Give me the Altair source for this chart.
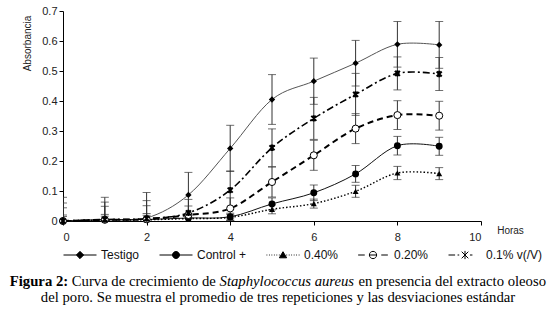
import altair as alt
import pandas as pd

# ---------------- data ----------------
hours = [0, 1, 2, 3, 4, 5, 6, 7, 8, 9]
series_names = ["Testigo", "Control +", "0.40%", "0.20%", "0.1% v(/V)"]

testigo = [0.000, 0.005, 0.010, 0.087, 0.242, 0.405, 0.466, 0.526, 0.589, 0.587]
testigo_err = [0.079, 0.074, 0.085, 0.075, 0.077, 0.083, 0.077, 0.076, 0.076, 0.078]

control = [0.000, 0.004, 0.005, 0.010, 0.014, 0.057, 0.094, 0.157, 0.251, 0.249]
control_err = [0.020, 0.018, 0.020, 0.015, 0.012, 0.020, 0.026, 0.028, 0.031, 0.030]

p040 = [0.000, 0.003, 0.004, 0.008, 0.012, 0.039, 0.058, 0.099, 0.160, 0.158]
p040_err = [0.015, 0.013, 0.015, 0.012, 0.010, 0.015, 0.015, 0.020, 0.022, 0.020]

p020 = [0.000, 0.004, 0.006, 0.020, 0.042, 0.130, 0.219, 0.308, 0.353, 0.351]
p020_err = [0.044, 0.045, 0.045, 0.030, 0.035, 0.050, 0.050, 0.050, 0.048, 0.048]

p010 = [0.000, 0.005, 0.008, 0.027, 0.103, 0.244, 0.342, 0.422, 0.492, 0.490]
p010_err = [0.060, 0.058, 0.060, 0.045, 0.064, 0.063, 0.070, 0.070, 0.055, 0.055]

y_ticks = [0, 0.1, 0.2, 0.3, 0.4, 0.5, 0.6, 0.7]
x_ticks = [0, 2, 4, 6, 8, 10]

caption_bold = "Figura 2:"
caption_a = "Curva de crecimiento de"
caption_italic = "Staphylococcus aureus"
caption_b = "en presencia del extracto oleoso"
caption_line2 = "del poro. Se muestra el promedio de tres repeticiones y las desviaciones estándar"

values = [testigo, control, p040, p020, p010]
errors = [testigo_err, control_err, p040_err, p020_err, p010_err]

rows = []
for name, vals, errs in zip(series_names, values, errors):
    for h, v, e in zip(hours, vals, errs):
        rows.append({"series": name, "hour": h, "value": v, "lo": v - e, "hi": v + e})
df = pd.DataFrame(rows)

# ---------------- styles ----------------
SANS = "Liberation Sans"
SERIF = "Liberation Serif"

line_styles = {
    "Testigo": dict(color="#555555", strokeWidth=1.0),
    "Control +": dict(color="#111111", strokeWidth=1.0),
    "0.40%": dict(color="#000000", strokeWidth=1.4, strokeDash=[1.5, 2]),
    "0.20%": dict(color="#000000", strokeWidth=2.0, strokeDash=[6, 4]),
    "0.1% v(/V)": dict(color="#000000", strokeWidth=1.6, strokeDash=[7, 3, 2, 3]),
}
star_path = "M-0.75,-0.75L0.75,0.75M-0.75,0.75L0.75,-0.75M0,-0.95V0.95"
point_styles = {
    "Testigo": dict(shape="diamond", size=40, filled=True, color="#000000"),
    "Control +": dict(shape="circle", size=48, filled=True, color="#000000"),
    "0.40%": dict(shape="triangle-up", size=36, filled=True, color="#000000"),
    "0.20%": dict(shape="circle", size=50, filled=True, fill="white", stroke="#000000", strokeWidth=1),
    "0.1% v(/V)": dict(shape=star_path, size=45, filled=False, color="#000000", strokeWidth=2),
}

legend_paths = [
    "M-1,0H1M0,-0.22L0.22,0L0,0.22L-0.22,0Z",
    "M-1,0H1M-0.21,0A0.21,0.21,0,1,0,0.21,0A0.21,0.21,0,1,0,-0.21,0Z",
    "M-1,0H-0.95M-0.85,0H-0.8M-0.7,0H-0.65M-0.55,0H-0.5M-0.4,0H-0.35M-0.25,0H-0.2"
    "M0.2,0H0.25M0.35,0H0.4M0.5,0H0.55M0.65,0H0.7M0.8,0H0.85M0.95,0H1"
    "M0,-0.2L0.22,0.17L-0.22,0.17Z",
    "M-0.9,0H-0.5M-0.2,0H0.2M0.5,0H0.9M-0.22,0A0.22,0.22,0,1,0,0.22,0A0.22,0.22,0,1,0,-0.22,0Z",
    "M-1,0H-0.6M-0.45,0H-0.35M0.3,0H0.45M-0.2,-0.2L0.2,0.2M-0.2,0.2L0.2,-0.2M0,-0.25V0.25",
]
legend_fills = ["black", "black", "black", "white", "black"]
legend_strokes = ["black", "black", "black", "black", "black"]

x_scale = alt.Scale(domain=[0, 10], nice=False, zero=False)
y_scale = alt.Scale(domain=[0, 0.7], nice=False)
x_axis = alt.Axis(
    values=x_ticks, title="Horas", grid=False, tickSize=4, labelPadding=6,
    labelFont=SANS, labelFontSize=11, labelColor="#222222",
    titleFont=SANS, titleFontSize=10, titleFontWeight="normal", titleColor="#222222",
    titleX=447, titleY=9, titleAlign="center", titleBaseline="middle",
    domainColor="#000000", tickColor="#000000",
)
y_axis = alt.Axis(
    values=y_ticks, format="~g", title="Absorbancia", grid=False, tickSize=4,
    labelPadding=2, labelFont=SANS, labelFontSize=11, labelColor="#222222",
    titleFont=SANS, titleFontSize=10, titleFontWeight="normal", titleColor="#222222",
    titleAngle=-90, titleX=-36, titleY=32, titleAlign="center", titleBaseline="middle",
    domainColor="#000000", tickColor="#000000",
)

def X():
    return alt.X("hour:Q", scale=x_scale, axis=x_axis)

def Y(field):
    return alt.Y(f"{field}:Q", scale=y_scale, axis=y_axis)

err_layers, line_layers, point_layers = [], [], []
for name in series_names:
    base = alt.Chart(df[df["series"] == name])
    err_layers.append(
        base.mark_rule(color="#333333", strokeWidth=1, clip=True).encode(
            x=X(), y=Y("lo"), y2="hi:Q")
    )
    for fld in ("lo", "hi"):
        err_layers.append(
            base.mark_tick(orient="horizontal", size=8, thickness=1, color="#333333",
                           clip=True).encode(x=X(), y=Y(fld))
        )
    line_layers.append(
        base.mark_line(interpolate="cardinal", **line_styles[name]).encode(x=X(), y=Y("value"))
    )
    point_layers.append(
        base.mark_point(opacity=1, **point_styles[name]).encode(x=X(), y=Y("value"))
    )

legend_layer = alt.Chart(df[df["hour"] == 0]).mark_point(
    opacity=0, strokeWidth=1
).encode(
    x=X(), y=Y("value"),
    shape=alt.Shape("series:N", scale=alt.Scale(domain=series_names, range=legend_paths),
                    legend=alt.Legend(title=None)),
    fill=alt.Fill("series:N", scale=alt.Scale(domain=series_names, range=legend_fills),
                  legend=alt.Legend(title=None)),
    stroke=alt.Stroke("series:N", scale=alt.Scale(domain=series_names, range=legend_strokes),
                      legend=alt.Legend(title=None)),
)

def cap_text(txt, x, y, **kw):
    return alt.Chart(pd.DataFrame({"t": [txt]})).mark_text(
        font=SERIF, fontSize=14.7, color="#000000", baseline="alphabetic", **kw
    ).encode(x=alt.value(x), y=alt.value(y), text="t:N")

captions = [
    cap_text(caption_bold, -53.2, 275, align="left", fontWeight="bold"),
    cap_text(caption_a, 8.8, 275, align="left"),
    cap_text(caption_italic, 156.6, 275, align="left", fontStyle="italic"),
    cap_text(caption_b, 295.4, 275, align="left"),
    cap_text(caption_line2, 215, 291, align="center"),
]

chart = alt.layer(
    *err_layers, *line_layers, *point_layers, legend_layer, *captions
).properties(
    width=418, height=210,
    padding={"left": 63, "top": 11, "right": 76, "bottom": 93},
    autosize=alt.AutoSizeParams(type="none"),
    background="white",
).configure_view(
    stroke=None
).configure_legend(
    orient="none", legendX=0, legendY=227, direction="horizontal", padding=0,
    gridAlign="none",
    symbolSize=1089, symbolStrokeWidth=1, symbolStrokeColor="black", symbolOpacity=1,
    labelFont=SANS, labelFontSize=12, labelColor="#111111", labelOffset=4,
    columnPadding=17,
)

chart.save("out.html", embed_options={"renderer": "svg", "actions": False})
